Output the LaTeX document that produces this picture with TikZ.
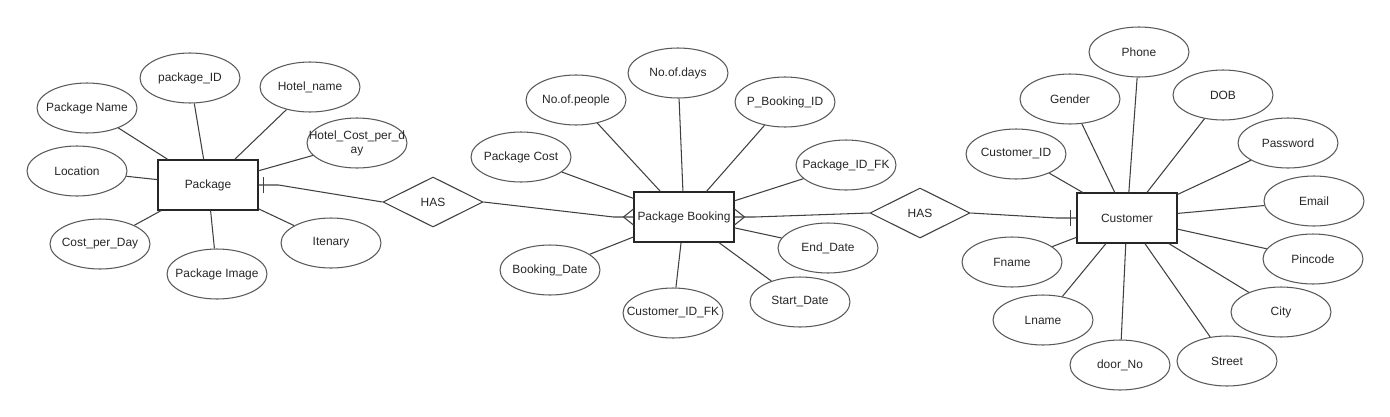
\documentclass[tikz,border=0pt]{standalone}
\usepackage{fontspec}
\setmainfont{Liberation Sans}
\usetikzlibrary{shapes.geometric}
\tikzset{
  attr/.style={ellipse,draw=black!65,line width=.6pt,minimum width=2cm,minimum height=1cm,inner sep=0pt},
  entity/.style={rectangle,draw=black!85,line width=.6pt,minimum width=2cm,minimum height=1cm,inner sep=0pt},
  rel/.style={diamond,draw=black!75,line width=.6pt,minimum width=2cm,minimum height=1cm,inner sep=0pt},
  link/.style={draw=black!75,line width=.6pt},
}
\tikzstyle{every node}=[font=\fontsize{6.8}{8}\selectfont,text=black!85]

\begin{document}
\begin{tikzpicture}[x=0.02cm,y=-0.02cm]
    \useasboundingbox (0,0) rectangle (1390,416);
    % entities and relationships
    \node[entity] (pkg) at (208,185) {Package};
    \node[entity] (pb) at (684,217) {Package Booking};
    \node[entity] (cust) at (1127,218) {Customer};
    \node[rel] (has1) at (433,202) {HAS};
    \node[rel] (has2) at (920,213) {HAS};
    % Package attributes
    \foreach \x/\y/\nm/\txt in {87/108/pname/Package Name, 190/78/pid/package\_ID,
        310/87/hname/Hotel\_name, 77/171/loc/Location, 100/244/cpd/Cost\_per\_Day,
        217/274/pimg/Package Image, 331/243/itin/Itenary}{
      \node[attr,label=center:\txt] (\nm) at (\x,\y) {};
      \draw[link] (\nm) -- (pkg);
    }
    \node[attr,label={[align=center]center:Hotel\_Cost\_per\_d\\ay}] (hcost) at (357,143) {};
    \draw[link] (hcost) -- (pkg);
    % Package Booking attributes
    \foreach \x/\y/\nm/\txt in {521/157/pcost/Package Cost, 576/100/npeople/No.of.people,
        678/73/ndays/No.of.days, 785/102/pbid/P\_Booking\_ID, 846/165/pidfk/Package\_ID\_FK,
        828/248/edate/End\_Date, 800/302/sdate/Start\_Date, 673/313/cidfk/Customer\_ID\_FK,
        550/270/bdate/Booking\_Date}{
      \node[attr,label=center:\txt] (\nm) at (\x,\y) {};
      \draw[link] (\nm) -- (pb);
    }
    % Customer attributes
    \foreach \x/\y/\nm/\txt in {1016/154/cid/Customer\_ID, 1070/99/gender/Gender,
        1139/52/phone/Phone, 1223/95/dob/DOB, 1288/143/pwd/Password, 1314/201/email/Email,
        1313/259/pin/Pincode, 1281/312/city/City, 1227/361/street/Street,
        1120/365/door/door\_No, 1043/320/lname/Lname, 1012/262/fname/Fname}{
      \node[attr,label=center:\txt] (\nm) at (\x,\y) {};
      \draw[link] (\nm) -- (cust);
    }
    % relationship lines
    \draw[link] (pkg.east) -- ++(20,0) -- (has1.west);
    \draw[link] ([shift={(5,-8)}]pkg.east) -- ([shift={(5,8)}]pkg.east);
    \draw[link] (has1.east) -- ([shift={(-20,0)}]pb.west) -- (pb.west);
    \draw[link] ([shift={(0,-8)}]pb.west) -- ([shift={(-10,0)}]pb.west) -- ([shift={(0,8)}]pb.west);
    \draw[link] (pb.east) -- ++(20,0) -- (has2.west);
    \draw[link] ([shift={(0,-8)}]pb.east) -- ([shift={(10,0)}]pb.east) -- ([shift={(0,8)}]pb.east);
    \draw[link] (has2.east) -- ([shift={(-20,0)}]cust.west) -- (cust.west);
    \draw[link] ([shift={(-6,-8)}]cust.west) -- ([shift={(-6,8)}]cust.west);
\end{tikzpicture}
\end{document}
